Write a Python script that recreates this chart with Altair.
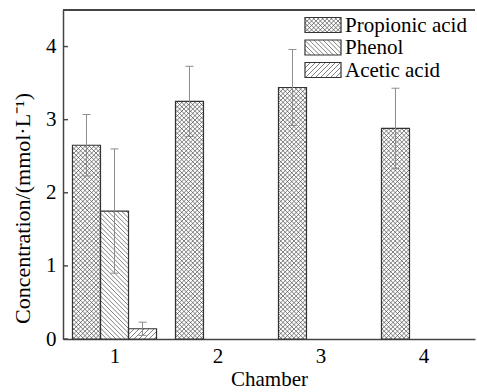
import altair as alt
import pandas as pd
import numpy as np

# ---------------- data ----------------
chambers = [1, 2, 3, 4]
series = ["Propionic acid", "Phenol", "Acetic acid"]
propionic = [2.65, 3.25, 3.44, 2.88]
propionic_err = [0.42, 0.48, 0.52, 0.55]
phenol = [1.75, 0.0, 0.0, 0.0]
phenol_err = [0.85, 0.0, 0.0, 0.0]
acetic = [0.14, 0.0, 0.0, 0.0]
acetic_err = [0.09, 0.0, 0.0, 0.0]
y_ticks = [0, 1, 2, 3, 4]
x_ticks = [1, 2, 3, 4]

values = {"Propionic acid": propionic, "Phenol": phenol, "Acetic acid": acetic}
errors = {"Propionic acid": propionic_err, "Phenol": phenol_err, "Acetic acid": acetic_err}

# ---------------- layout / style ----------------
W, H = 412, 329
XMIN, XMAX = 0.5, 4.5
YMIN, YMAX = 0.0, 4.5
BAR_W = 0.272  # width of one bar in chamber units
FONT = "Liberation Serif"
FS = 21
TFS = 22
patterns = {"Propionic acid": ["/", "\\"], "Phenol": ["\\"], "Acetic acid": ["/"]}
spacing = {"Propionic acid": 4.4, "Phenol": 4.6, "Acetic acid": 5.0}


def px_x(d):
    return (d - XMIN) / (XMAX - XMIN) * W


def px_y(d):
    return H * (1 - (d - YMIN) / (YMAX - YMIN))


def dx(p):
    return XMIN + p / W * (XMAX - XMIN)


def dy(p):
    return YMIN + (1 - p / H) * (YMAX - YMIN)


def hatch(x0, x1, y0, y1, kinds, sp):
    """Hatch segments (pixel space, y down) clipped to a rectangle."""
    segs = []
    for k in kinds:
        if k == "/":  # x + y = c
            c = np.floor((x0 + y0) / sp) * sp
            while c <= x1 + y1:
                xa = max(x0, c - y1)
                xb = min(x1, c - y0)
                if xb - xa > 0.3:
                    segs.append((xa, c - xa, xb, c - xb))
                c += sp
        else:  # x - y = c
            c = np.floor((x0 - y1) / sp) * sp
            while c <= x1 - y0:
                xa = max(x0, c + y0)
                xb = min(x1, c + y1)
                if xb - xa > 0.3:
                    segs.append((xa, xa - c, xb, xb - c))
                c += sp
    return segs


# bars
bar_rows, hatch_rows, err_rows = [], [], []
for si, s in enumerate(series):
    for ci, ch in enumerate(chambers):
        v = values[s][ci]
        if v <= 0:
            continue
        xl = ch + (si - 1.5) * BAR_W
        xr = xl + BAR_W
        bar_rows.append({"series": s, "x": xl, "x2": xr, "y": 0.0, "y2": v})
        for (a, b, c, d) in hatch(px_x(xl), px_x(xr), px_y(v), px_y(0), patterns[s], spacing[s]):
            hatch_rows.append({"x": dx(a), "y": dy(b), "x2": dx(c), "y2": dy(d)})
        e = errors[s][ci]
        if e > 0:
            err_rows.append({"xc": (xl + xr) / 2, "lo": v - e, "hi": v + e})

# legend (pixel layout converted to data space)
LEG_X0, LEG_X1 = 242, 278
LEG_TOP = 7.5
LEG_STEP = 22.5
LEG_H = 15
leg_rows, leg_hatch, leg_text = [], [], []
for i, s in enumerate(series):
    t = LEG_TOP + i * LEG_STEP
    leg_rows.append({"x": dx(LEG_X0), "x2": dx(LEG_X1), "y": dy(t), "y2": dy(t + LEG_H)})
    for (a, b, c, d) in hatch(LEG_X0, LEG_X1, t, t + LEG_H, patterns[s], spacing[s]):
        leg_hatch.append({"x": dx(a), "y": dy(b), "x2": dx(c), "y2": dy(d)})
    leg_text.append({"x": dx(LEG_X1 + 4), "y": dy(t + LEG_H / 2 + 0.5), "label": s})

bars = pd.DataFrame(bar_rows + leg_rows)
hatches = pd.DataFrame(hatch_rows + leg_hatch)
errs = pd.DataFrame(err_rows)
caps = pd.DataFrame([{"xc": r["xc"], "v": r["lo"]} for r in err_rows] +
                    [{"xc": r["xc"], "v": r["hi"]} for r in err_rows])
legtext = pd.DataFrame(leg_text)
yt = pd.DataFrame({"v": y_ticks})

xscale = alt.Scale(domain=[XMIN, XMAX], nice=False, zero=False)
yscale = alt.Scale(domain=[YMIN, YMAX], nice=False, zero=False)
xaxis = alt.Axis(values=x_ticks, format="d", ticks=False, grid=False, labelPadding=6,
                 title="Chamber", titlePadding=2, titleFontSize=FS)
yaxis = alt.Axis(values=y_ticks, format="d", ticks=False, grid=False, labelPadding=7,
                 title="Concentration/(mmol·L⁻¹)", titlePadding=11, titleY=198,
                 titleFontSize=TFS)


def X(f):
    return alt.X(f, type="quantitative", scale=xscale, axis=xaxis)


def Y(f):
    return alt.Y(f, type="quantitative", scale=yscale, axis=yaxis)


fill = alt.Chart(bars).mark_rect(fill="white", strokeWidth=0).encode(
    x=X("x"), x2="x2", y=Y("y"), y2="y2")
hatch_layer = alt.Chart(hatches).mark_rule(color="#4a4a4a", strokeWidth=0.7).encode(
    x=X("x"), x2="x2", y=Y("y"), y2="y2")
outline = alt.Chart(bars).mark_rect(fillOpacity=0, stroke="#333333", strokeWidth=1.2).encode(
    x=X("x"), x2="x2", y=Y("y"), y2="y2")
err_layer = alt.Chart(errs).mark_rule(color="#8c8c8c", strokeWidth=1).encode(
    x=X("xc"), y=Y("lo"), y2="hi")
cap_layer = alt.Chart(caps).mark_point(shape="M-1,0L1,0", size=64, filled=False,
                                        color="#8c8c8c", strokeWidth=1, opacity=1).encode(
    x=X("xc"), y=Y("v"))
ytick_layer = alt.Chart(yt).mark_rule(color="#444444", strokeWidth=1.4).encode(
    x=alt.value(0), x2=alt.value(5), y=Y("v"))
top_border = alt.Chart(yt).mark_rule(color="#444444", strokeWidth=1.5).encode(
    x=alt.value(0), x2=alt.value(W), y=alt.value(0))
text_layer = alt.Chart(legtext).mark_text(align="left", baseline="middle", font=FONT,
                                          fontSize=FS, color="black").encode(
    x=X("x"), y=Y("y"), text="label")

chart = alt.layer(fill, hatch_layer, outline, err_layer, cap_layer, ytick_layer,
                  top_border, text_layer).properties(
    width=W, height=H,
    padding={"left": 63, "top": 10, "right": 2, "bottom": 53},
    autosize="none",
).configure_view(stroke=None).configure_axis(
    labelFont=FONT, titleFont=FONT, labelFontSize=FS,
    labelColor="black", titleColor="black", titleFontWeight="normal",
    domainColor="#444444", domainWidth=1.5,
)

chart.save("out.html", embed_options={"renderer": "svg", "actions": False})
